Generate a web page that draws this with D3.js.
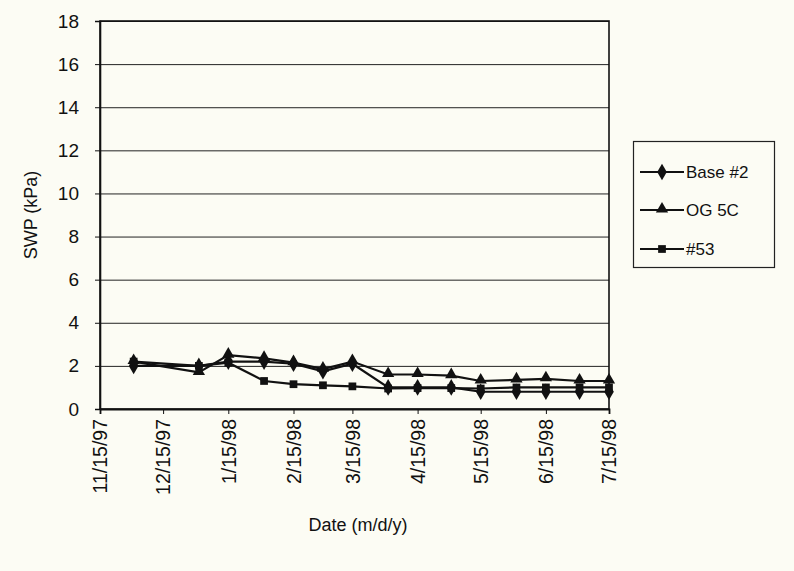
<!DOCTYPE html>
<html>
<head>
<meta charset="utf-8">
<script src="https://cdn.jsdelivr.net/npm/d3@7"></script>
<style>
  html, body { margin: 0; padding: 0; background: #fcfcf4; }
  svg { display: block; }
  text { font-family: "Liberation Sans", Arial, sans-serif; fill: #111; }
</style>
</head>
<body>
<svg id="chart" width="794" height="571"></svg>
<script>
// Sampling dates (semi-monthly readings)
const dates = ["1997-12-01","1998-01-01","1998-01-15","1998-02-01","1998-02-15","1998-03-01",
               "1998-03-15","1998-04-01","1998-04-15","1998-05-01","1998-05-15","1998-06-01",
               "1998-06-15","1998-07-01","1998-07-15"];
// Soil water potential, kPa
const base2 = [2.0, 2.0, 2.2, 2.2, 2.1, 1.75, 2.1, 1.0, 1.0, 1.0, 0.8, 0.8, 0.8, 0.8, 0.8];
const og5c  = [2.2, 1.7, 2.5, 2.35, 2.15, 1.85, 2.2, 1.6, 1.6, 1.55, 1.3, 1.35, 1.4, 1.3, 1.3];
const s53   = [2.2, 2.0, 2.15, 1.3, 1.15, 1.1, 1.05, 0.95, 0.97, 0.97, 0.95, 1.0, 1.0, 1.0, 1.0];
const seriesNames = ["Base #2", "OG 5C", "#53"];
const yTicks = [0, 2, 4, 6, 8, 10, 12, 14, 16, 18];
const xTickDates = ["1997-11-15","1997-12-15","1998-01-15","1998-02-15","1998-03-15",
                    "1998-04-15","1998-05-15","1998-06-15","1998-07-15"];

const parse = d3.utcParse("%Y-%m-%d");
const fmt = d => `${d.getUTCMonth() + 1}/${d.getUTCDate()}/${String(d.getUTCFullYear()).slice(2)}`;

const svg = d3.select("#chart");
const m = { left: 100, right: 609, top: 21, bottom: 409 };

const x = d3.scaleUtc()
  .domain([parse(xTickDates[0]), parse(xTickDates[xTickDates.length - 1])])
  .range([m.left, m.right]);
const y = d3.scaleLinear().domain([0, 18]).range([m.bottom, m.top]);

// gridlines
svg.append("g")
  .selectAll("line").data(yTicks.filter(v => v > 0)).join("line")
  .attr("x1", m.left).attr("x2", m.right)
  .attr("y1", d => y(d) + 0.5).attr("y2", d => y(d) + 0.5)
  .attr("stroke", "#222").attr("stroke-width", 1);

// plot frame
svg.append("rect")
  .attr("x", m.left).attr("y", m.top)
  .attr("width", m.right - m.left).attr("height", m.bottom - m.top)
  .attr("fill", "none").attr("stroke", "#111").attr("stroke-width", 1.6);

// y axis
const yAxis = svg.append("g")
  .attr("transform", `translate(${m.left},0)`)
  .call(d3.axisLeft(y).tickValues(yTicks).tickSize(5).tickPadding(16));
yAxis.select(".domain").attr("stroke", "#111").attr("stroke-width", 1.6);
yAxis.selectAll(".tick line").attr("stroke", "#111");
yAxis.selectAll(".tick text").style("font-size", "19px").attr("fill", "#111");

// x axis
const xAxis = svg.append("g")
  .attr("transform", `translate(0,${m.bottom})`)
  .call(d3.axisBottom(x).tickValues(xTickDates.map(parse)).tickFormat(fmt).tickSize(5));
xAxis.select(".domain").attr("stroke", "#111").attr("stroke-width", 1.8);
xAxis.selectAll(".tick line").attr("stroke", "#111");
xAxis.selectAll(".tick text")
  .style("font-size", "19.5px").attr("fill", "#111")
  .attr("transform", "rotate(-90)")
  .attr("text-anchor", "end")
  .attr("x", -10).attr("y", 0).attr("dy", "0.35em");

// axis titles
svg.append("text")
  .attr("transform", "translate(37,215) rotate(-90)")
  .attr("text-anchor", "middle")
  .style("font-size", "18px")
  .text("SWP (kPa)");
svg.append("text")
  .attr("x", 358).attr("y", 531)
  .attr("text-anchor", "middle")
  .style("font-size", "18px")
  .text("Date (m/d/y)");

// series
const seriesData = [base2, og5c, s53].map((vals, i) => ({
  name: seriesNames[i],
  shape: ["diamond", "triangle", "square"][i],
  points: vals.map((v, j) => ({ date: parse(dates[j]), value: v }))
}));

const line = d3.line().x(d => x(d.date)).y(d => y(d.value));

function drawMarker(g, shape, cx, cy) {
  if (shape === "diamond") {
    g.append("path").attr("d", d3.symbol(d3.symbolDiamond, 80)())
      .attr("transform", `translate(${cx},${cy})`).attr("fill", "#111");
  } else if (shape === "triangle") {
    g.append("path").attr("d", d3.symbol(d3.symbolTriangle, 65)())
      .attr("transform", `translate(${cx},${cy - 1})`).attr("fill", "#111");
  } else {
    g.append("path").attr("d", d3.symbol(d3.symbolSquare, 60)())
      .attr("transform", `translate(${cx},${cy})`).attr("fill", "#111");
    g.append("path").attr("d", d3.symbol(d3.symbolX, 100)())
      .attr("transform", `translate(${cx},${cy})`).attr("fill", "#111");
  }
}

const gS = svg.append("g");
seriesData.forEach(s => {
  gS.append("path").datum(s.points)
    .attr("d", line).attr("fill", "none")
    .attr("stroke", "#111").attr("stroke-width", 2.2);
});
seriesData.forEach(s => {
  s.points.forEach(p => drawMarker(gS, s.shape, x(p.date), y(p.value)));
});

// legend
const lg = svg.append("g");
lg.append("rect")
  .attr("x", 633.5).attr("y", 141.5).attr("width", 141).attr("height", 126)
  .attr("fill", "#fcfcf4").attr("stroke", "#222").attr("stroke-width", 1.2);
const legendY = [172, 210, 249];
seriesData.forEach((s, i) => {
  const ly = legendY[i];
  lg.append("line").attr("x1", 640).attr("x2", 684).attr("y1", ly).attr("y2", ly)
    .attr("stroke", "#111").attr("stroke-width", 2.2);
  drawMarker(lg, s.shape, 662, ly);
  lg.append("text").attr("x", 686).attr("y", ly).attr("dy", "0.36em")
    .style("font-size", "17px").text(s.name);
});
</script>
</body>
</html>
